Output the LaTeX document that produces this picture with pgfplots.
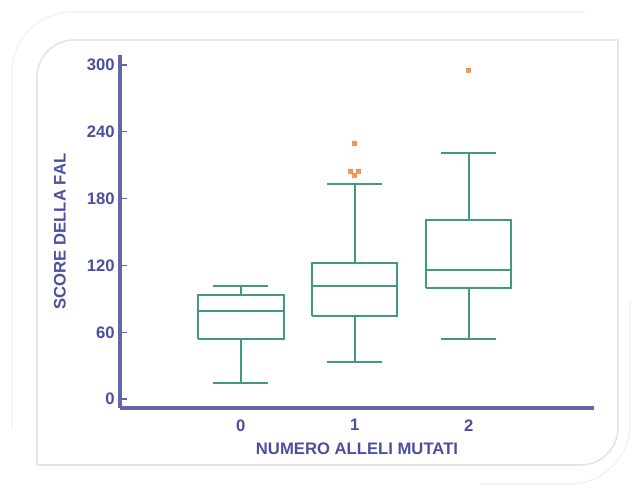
\documentclass[border=0pt]{standalone}
\usepackage{fontspec}
\setmainfont{Liberation Sans}
\usepackage{pgfplots}
\pgfplotsset{compat=1.18}
\definecolor{axisblue}{HTML}{6466AC}
\definecolor{txtblue}{HTML}{4C4F9E}
\definecolor{boxgreen}{HTML}{3F9A7F}
\definecolor{outl}{HTML}{F08A3C}
\begin{document}
\begin{tikzpicture}
\useasboundingbox (0,0) rectangle (475.5pt,366pt);
\fill[white] (0,0) rectangle (475.5pt,366pt);
\draw[gray!20, line width=1.2pt, rounded corners=28pt] (27.75pt,17.25pt) -- (27.75pt,336pt) -- (463.5pt,336pt);
\draw[gray!20, line width=1.2pt, rounded corners=28pt] (463.5pt,336pt) -- (463.5pt,17.25pt) -- (27.75pt,17.25pt);
\draw[gray!10, line width=1pt, rounded corners=45pt] (9pt,43.5pt) -- (9pt,357pt) -- (438.75pt,357pt);
\draw[gray!10, line width=1pt, rounded corners=45pt] (472.5pt,141pt) -- (472.5pt,3pt) -- (360pt,3pt);
\begin{axis}[
  at={(90pt,60pt)}, anchor=south west,
  scale only axis, width=355.5pt, height=264.75pt,
  xmin=-1.06, xmax=3.1, ymin=-8, ymax=309,
  axis x line*=bottom, axis y line*=left,
  axis line style={-, draw=axisblue, line width=2.3pt},
  xtick={0,1,2},
  ytick={0,60,120,180,240,300},
  xtick style={draw=none},
  ytick style={draw=axisblue, line width=0.9pt},
  major tick length=5pt,
  tick align=inside,
  tick label style={font=\bfseries\fontsize{12.5}{14}\selectfont, text=txtblue},
  xticklabel style={yshift=-5pt},
  yticklabel style={xshift=-0.5pt},
  /pgf/number format/assume math mode=true,
  xlabel={NUMERO ALLELI MUTATI},
  ylabel={SCORE DELLA FAL},
  label style={font=\bfseries\fontsize{12.5}{14}\selectfont, text=txtblue},
  xlabel style={at={(axis description cs:0.5,0)}, anchor=center, yshift=-30.5pt},
  ylabel style={at={(axis description cs:-0.127,0.5)}, anchor=center},
  unbounded coords=jump,
  clip=false,
]
% group 0: lw=14.4 q1=54.2 med=78.7 q3=93.1 uw=101.2
\addplot[boxgreen, line width=1.5pt, line join=miter, mark=none] coordinates {
  (-0.375,54.2) (0.375,54.2) (0.375,93.1) (-0.375,93.1) (-0.375,54.2) (nan,nan)
  (-0.375,78.7) (0.375,78.7) (nan,nan)
  (0,54.2) (0,14.4) (nan,nan) (-0.24,14.4) (0.24,14.4) (nan,nan)
  (0,93.1) (0,101.2) (nan,nan) (-0.24,101.2) (0.24,101.2)};
% group 1: lw=32.9 q1=74.9 med=101.8 q3=122.2 uw=193.3
\addplot[boxgreen, line width=1.5pt, line join=miter, mark=none] coordinates {
  (0.625,74.9) (1.375,74.9) (1.375,122.2) (0.625,122.2) (0.625,74.9) (nan,nan)
  (0.625,101.8) (1.375,101.8) (nan,nan)
  (1,74.9) (1,32.9) (nan,nan) (0.76,32.9) (1.24,32.9) (nan,nan)
  (1,122.2) (1,193.3) (nan,nan) (0.76,193.3) (1.24,193.3)};
% group 2: lw=53.9 q1=99.8 med=115.6 q3=161.2 uw=221.4
\addplot[boxgreen, line width=1.5pt, line join=miter, mark=none] coordinates {
  (1.625,99.8) (2.375,99.8) (2.375,161.2) (1.625,161.2) (1.625,99.8) (nan,nan)
  (1.625,115.6) (2.375,115.6) (nan,nan)
  (2,99.8) (2,53.9) (nan,nan) (1.76,53.9) (2.24,53.9) (nan,nan)
  (2,161.2) (2,221.4) (nan,nan) (1.76,221.4) (2.24,221.4)};
% outliers
\addplot[only marks, mark=square*, mark size=1.5pt, color=outl, opacity=0.85]
  coordinates {(1,229.5) (0.965,205) (1.035,205) (1,201) (2,295.4)};
\end{axis}
\end{tikzpicture}
\end{document}
